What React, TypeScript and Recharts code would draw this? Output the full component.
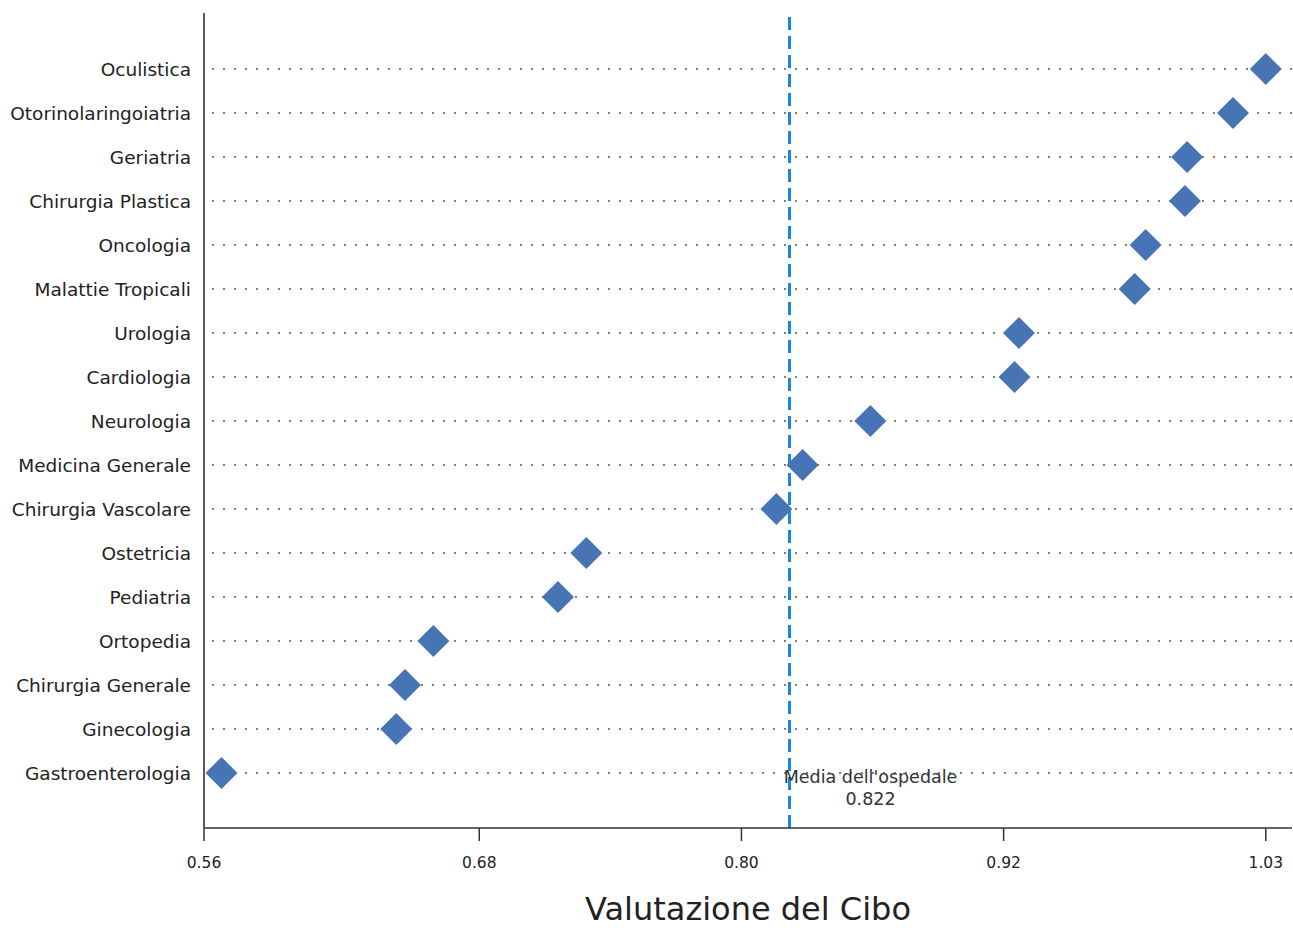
import { ScatterChart, Scatter, XAxis, YAxis, ReferenceLine } from 'recharts';

// reparti, dall'alto verso il basso
const reparti = [
  'Oculistica',
  'Otorinolaringoiatria',
  'Geriatria',
  'Chirurgia Plastica',
  'Oncologia',
  'Malattie Tropicali',
  'Urologia',
  'Cardiologia',
  'Neurologia',
  'Medicina Generale',
  'Chirurgia Vascolare',
  'Ostetricia',
  'Pediatria',
  'Ortopedia',
  'Chirurgia Generale',
  'Ginecologia',
  'Gastroenterologia',
];

const valutazioni = [
  1.04, 1.025, 1.004, 1.003, 0.985, 0.98, 0.927, 0.925, 0.859, 0.828, 0.816, 0.729, 0.716, 0.659,
  0.646, 0.642, 0.562,
];

const mediaOspedale = 0.822;

const xTicks = [0.554, 0.68, 0.8, 0.92, 1.04];
const xTickLabels = ['0.56', '0.68', '0.80', '0.92', '1.03'];

const data = reparti.map((name, i) => ({ name, value: valutazioni[i] }));

const FONT = '"DejaVu Sans", sans-serif';
const BLUE = '#4674b5';

function Diamond(props: any) {
  const { cx, cy } = props;
  const r = 16;
  return (
    <polygon
      points={`${cx},${cy - r} ${cx + r},${cy} ${cx},${cy + r} ${cx - r},${cy}`}
      fill={BLUE}
    />
  );
}

function MediaLabel(props: any) {
  const { viewBox } = props;
  const x = viewBox.x + 81;
  const bottom = viewBox.y + viewBox.height;
  return (
    <g fontFamily={FONT} fontSize={17.5} fill="#333" textAnchor="middle">
      <text x={x} y={bottom - 45}>Media dell'ospedale</text>
      <text x={x} y={bottom - 23}>{mediaOspedale.toFixed(3)}</text>
    </g>
  );
}

export default function App() {
  return (
    <div style={{ position: 'absolute', left: 0, top: 0 }}>
      <ScatterChart width={1293} height={928} margin={{ top: 13, right: 1, bottom: 0, left: 0 }}>
        {/* righe punteggiate per ogni reparto */}
        {reparti.map((r) => (
          <ReferenceLine
            key={r}
            y={r}
            stroke="#555"
            strokeWidth={1.5}
            strokeDasharray="2 9"
            strokeDashoffset={-8}
          />
        ))}
        <XAxis
          type="number"
          dataKey="value"
          domain={[0.554, 1.052]}
          ticks={xTicks}
          tickFormatter={(v: number) => xTickLabels[xTicks.indexOf(v)] ?? String(v)}
          height={100}
          tickSize={13}
          tickMargin={16}
          stroke="#333"
          strokeWidth={1.5}
          tick={{ fontSize: 15.5, fontFamily: FONT, fill: '#222' }}
          label={{
            value: 'Valutazione del Cibo',
            position: 'insideBottom',
            offset: 8,
            fontSize: 32,
            fontFamily: FONT,
            fill: '#222',
          }}
        />
        <YAxis
          type="category"
          dataKey="name"
          reversed
          width={204}
          padding={{ top: 34, bottom: 33 }}
          tickLine={false}
          tickSize={0}
          tickMargin={13}
          stroke="#222"
          strokeWidth={1.5}
          interval={0}
          tick={{ fontSize: 18.5, fontFamily: FONT, fill: '#222' }}
        />
        <ReferenceLine
          x={mediaOspedale}
          stroke="#1a87e6"
          strokeWidth={3}
          strokeDasharray="13 6"
          label={<MediaLabel />}
        />
        <Scatter data={data} shape={<Diamond />} isAnimationActive={false} />
      </ScatterChart>
    </div>
  );
}
